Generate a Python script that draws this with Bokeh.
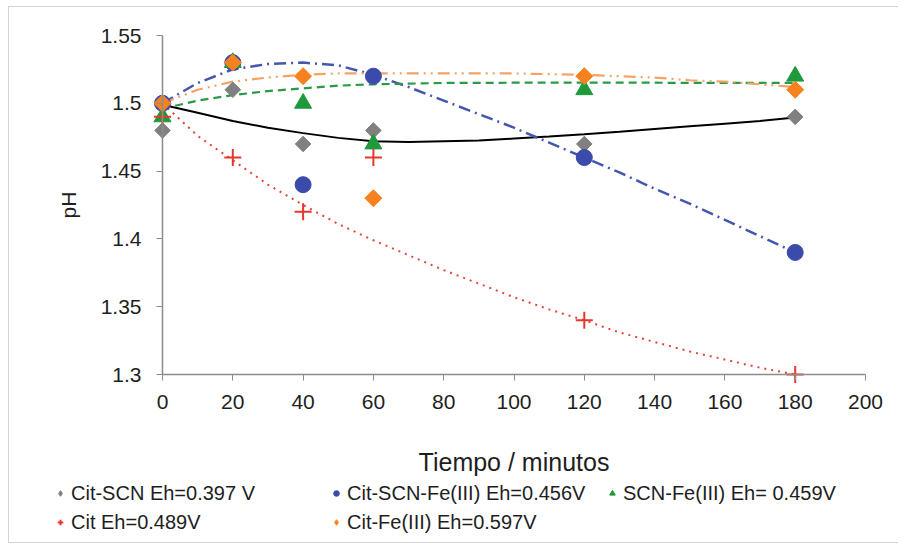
from bokeh.plotting import figure
from bokeh.models import FixedTicker, Legend, LegendItem, Range1d
from bokeh.embed import file_html
from bokeh.resources import INLINE
import math

# ---- data ----
t = [0, 20, 40, 60, 120, 180]
cit_scn = [1.48, 1.51, 1.47, 1.48, 1.47, 1.49]
cit_scn_fe = [1.50, 1.53, 1.44, 1.52, 1.46, 1.39]
scn_fe = [1.49, 1.53, 1.50, 1.47, 1.51, 1.52]
cit = [1.49, 1.46, 1.42, 1.46, 1.34, 1.30]
cit_fe = [1.50, 1.53, 1.52, 1.43, 1.52, 1.51]

# trend lines
trend_x = [0, 10, 20, 30, 40, 50, 60, 70, 80, 90, 100, 110, 120, 130, 140, 150, 160, 170, 180]
trend_cit_scn = [1.499, 1.493, 1.487, 1.482, 1.478, 1.4745, 1.472, 1.4715, 1.472, 1.4725, 1.474,
                 1.4755, 1.4772, 1.479, 1.481, 1.483, 1.485, 1.487, 1.4895]
trend_cit_scn_fe = [1.500, 1.515, 1.525, 1.529, 1.530, 1.528, 1.521, 1.512, 1.502, 1.492, 1.482,
                    1.471, 1.460, 1.449, 1.437, 1.426, 1.414, 1.402, 1.390]
trend_scn_fe = [1.496, 1.502, 1.506, 1.509, 1.511, 1.513, 1.514, 1.5145, 1.515, 1.515, 1.5152,
                1.5152, 1.5152, 1.5152, 1.5152, 1.515, 1.515, 1.515, 1.515]
trend_cit = [1.500, 1.476, 1.458, 1.440, 1.425, 1.411, 1.399, 1.388, 1.377, 1.367, 1.357,
             1.348, 1.340, 1.331, 1.324, 1.317, 1.311, 1.305, 1.300]
trend_cit_fe = [1.500, 1.510, 1.516, 1.519, 1.521, 1.522, 1.522, 1.522, 1.522, 1.522, 1.522,
                1.5215, 1.521, 1.520, 1.519, 1.517, 1.516, 1.514, 1.512]

labels = ["Cit-SCN Eh=0.397 V", "Cit-SCN-Fe(III) Eh=0.456V", "SCN-Fe(III) Eh= 0.459V",
          "Cit Eh=0.489V", "Cit-Fe(III) Eh=0.597V"]
x_ticks = [0, 20, 40, 60, 80, 100, 120, 140, 160, 180, 200]
y_ticks = [1.3, 1.35, 1.4, 1.45, 1.5, 1.55]
y_tick_labels = ["1.3", "1.35", "1.4", "1.45", "1.5", "1.55"]

FONT = "Liberation Sans"
AXIS_C = "#8c8c8c"
TXT_C = "#1e1e1e"

# canvas layout (pixels): where x=0/200 and y=1.3/1.55 fall on the canvas
W, H = 890, 537
X0_PX, X1_PX = 153, 856
Y_TOP_PX, Y_BOT_PX = 28, 367
xs = (X1_PX - X0_PX) / 200.0
ys = (Y_BOT_PX - Y_TOP_PX) / 0.25
x_lo = 0 - X0_PX / xs
x_hi = 200 + (W - X1_PX) / xs
y_hi = 1.55 + Y_TOP_PX / ys
y_lo = 1.3 - (H - Y_BOT_PX) / ys

styles = [
    dict(marker="square", angle=math.pi / 4, size=11, fill_color="#808080", line_color="#808080"),
    dict(marker="circle", size=16, fill_color="#3b4bab", line_color="#3b4bab"),
    dict(marker="triangle", size=17, fill_color="#1e9a3c", line_color="#1e9a3c"),
    dict(marker="cross", size=17, line_color="#e8362b", line_width=2),
    dict(marker="square", angle=math.pi / 4, size=12, fill_color="#f5821f", line_color="#f5821f"),
]

p = figure(width=W, height=H, output_backend="svg", toolbar_location=None,
           x_range=Range1d(x_lo, x_hi), y_range=Range1d(y_lo, y_hi),
           min_border_left=0, min_border_right=0, min_border_top=0, min_border_bottom=0,
           styles={"border-left": "1px solid #d4d4d4", "border-top": "1px solid #d4d4d4",
                   "border-bottom": "1px solid #d4d4d4",
                   "margin-left": "8px", "margin-top": "6px"})
p.outline_line_color = None
p.grid.grid_line_color = None
p.background_fill_color = "white"
p.border_fill_color = "white"

for ax in (p.xaxis[0], p.yaxis[0]):
    ax.axis_line_color = AXIS_C
    ax.axis_line_width = 1.5
    ax.major_tick_line_color = AXIS_C
    ax.major_tick_out = 6
    ax.major_tick_in = 0
    ax.minor_tick_line_color = None
    ax.major_label_text_font = FONT
    ax.major_label_text_font_size = "21px"
    ax.major_label_text_color = TXT_C
    ax.axis_label_text_font = FONT
    ax.axis_label_text_font_style = "normal"
    ax.axis_label_text_color = TXT_C

p.xaxis.ticker = FixedTicker(ticks=x_ticks)
p.yaxis.ticker = FixedTicker(ticks=y_ticks)
p.yaxis.major_label_overrides = dict(zip(y_ticks, y_tick_labels))
p.xaxis.fixed_location = 1.3
p.yaxis.fixed_location = 0
p.xaxis.bounds = (0, 200)
p.yaxis.bounds = (1.3, 1.55)
p.xaxis.major_label_standoff = 14
p.yaxis.major_label_standoff = 15
p.xaxis.axis_label = "Tiempo / minutos"
p.xaxis.axis_label_text_font_size = "25px"
p.xaxis.axis_label_standoff = 36
p.yaxis.axis_label = "pH"
p.yaxis.axis_label_text_font_size = "21px"
p.yaxis.axis_label_standoff = 18

# trend lines
p.line(trend_x, trend_cit_scn, line_color="#000000", line_width=2)
p.line(trend_x, trend_cit_scn_fe, line_color="#4656b0", line_width=2.5, line_dash="12 5 2 5")
p.line(trend_x, trend_scn_fe, line_color="#2b9a48", line_width=2.2, line_dash="8 5")
p.line(trend_x, trend_cit, line_color="#e0453a", line_width=2, line_dash="2 5")
p.line(trend_x, trend_cit_fe, line_color="#f4a366", line_width=2.2, line_dash="12 5 2 5 2 5")

# markers
items = []
for lbl, yv, st in zip(labels, [cit_scn, cit_scn_fe, scn_fe, cit, cit_fe], styles):
    r = p.scatter(t, yv, **st)
    rs = [r]
    if st["marker"] == "square":
        # legend-only swatch: upright diamond (no data point drawn)
        rs = [p.scatter([float("nan")], [float("nan")], marker="diamond", size=12,
                        fill_color=st["fill_color"], line_color=st["line_color"])]
    items.append(LegendItem(label=lbl, renderers=rs))

legend = Legend(items=items, location=(44, 10), orientation="horizontal", ncols=3,
                label_text_font=FONT, label_text_font_size="20px", label_text_color=TXT_C,
                glyph_width=14, glyph_height=14, label_standoff=4, label_width=253,
                label_height=24, spacing=5, padding=0, margin=0,
                border_line_color=None, background_fill_alpha=0)
p.add_layout(legend)

open("out.html", "w").write(file_html(p, INLINE))
